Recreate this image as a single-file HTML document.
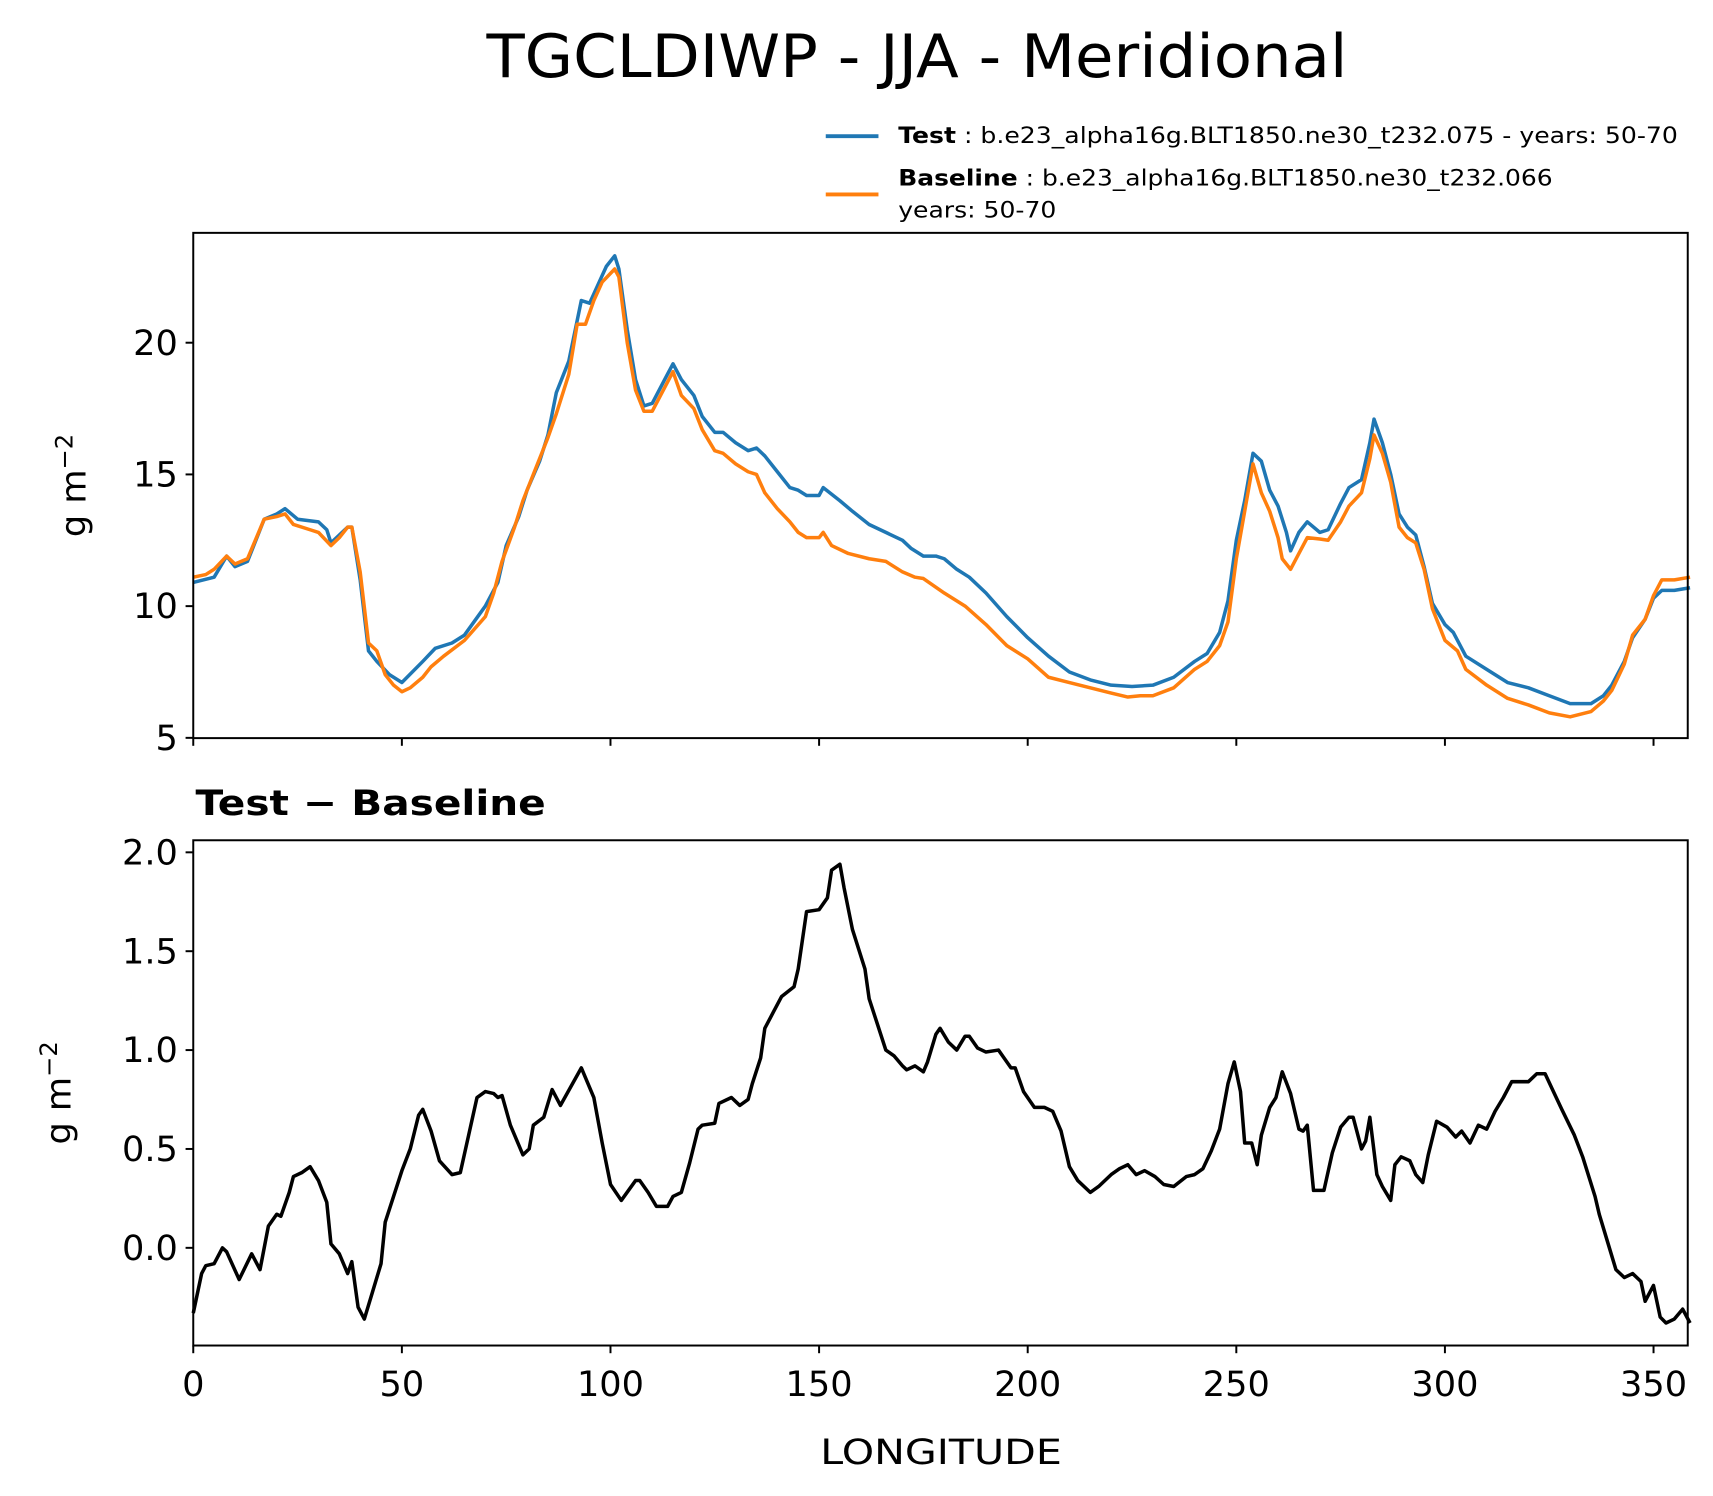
<!DOCTYPE html>
<html><head><meta charset="utf-8"><style>
html,body{margin:0;padding:0;background:#fff}
svg{display:block}
text{font-family:"DejaVu Sans","Liberation Sans",sans-serif;fill:#000}
</style></head><body>
<svg id="fig" width="1713" height="1496" viewBox="0 0 1560 1362" preserveAspectRatio="none" xmlns="http://www.w3.org/2000/svg">
<rect width="1560" height="1362" fill="#fff"/>
<text x="835" y="70" font-size="54" text-anchor="middle" textLength="784" lengthAdjust="spacingAndGlyphs">TGCLDIWP - JJA - Meridional</text>
<g>
<line x1="752" y1="124" x2="800" y2="124" stroke="#1f77b4" stroke-width="3.5"/>
<text x="818" y="130" font-size="20" textLength="710" lengthAdjust="spacingAndGlyphs"><tspan font-weight="bold">Test</tspan> : b.e23_alpha16g.BLT1850.ne30_t232.075 - years: 50-70</text>
<line x1="752" y1="177" x2="800" y2="177" stroke="#ff7f0e" stroke-width="3.5"/>
<text x="818" y="169" font-size="20" textLength="596" lengthAdjust="spacingAndGlyphs"><tspan font-weight="bold">Baseline</tspan> : b.e23_alpha16g.BLT1850.ne30_t232.066</text>
<text x="818" y="198" font-size="20" textLength="144" lengthAdjust="spacingAndGlyphs">years: 50-70</text>
</g>
<g id="topPanel"></g>
<text x="178" y="742" font-size="32" font-weight="bold" textLength="319" lengthAdjust="spacingAndGlyphs">Test − Baseline</text>
<g id="botPanel"></g>
<text x="857" y="1333" font-size="32" text-anchor="middle" textLength="220" lengthAdjust="spacingAndGlyphs">LONGITUDE</text>
<text transform="translate(78,442) rotate(-90)" font-size="32" text-anchor="middle">g m<tspan dy="-12" font-size="22">−2</tspan></text>
<text transform="translate(64,995) rotate(-90)" font-size="32" text-anchor="middle">g m<tspan dy="-12" font-size="22">−2</tspan></text>
</svg>
<script>
const testLon=[0,5,8,10,13,17,20,22,25,30,32,33,37,38,40,42,44,47,50,55,58,62,65,70,73,75,78,80,83,85,87,90,93,95,97,99,101,102,104,106,108,110,113,115,117,120,122,125,127,130,133,135,137,140,143,145,147,150,151,155,158,162,166,170,172,175,178,180,183,186,190,195,200,205,210,215,220,225,230,235,240,243,246,248,250,252,254,256,258,260,262,263,265,267,270,272,275,277,280,282,283,285,287,289,291,293,295,297,300,302,305,310,315,320,325,330,335,338,340,343,345,348,350,352,355,358.75];
const testVal=[10.9,11.1,11.9,11.5,11.7,13.3,13.5,13.7,13.3,13.2,12.9,12.4,13.0,13.0,11.0,8.3,7.9,7.4,7.1,7.9,8.4,8.6,8.9,10.0,10.9,12.3,13.4,14.4,15.5,16.5,18.1,19.3,21.6,21.5,22.2,22.9,23.3,22.8,20.5,18.6,17.6,17.7,18.6,19.2,18.6,18.0,17.2,16.6,16.6,16.2,15.9,16.0,15.7,15.1,14.5,14.4,14.2,14.2,14.5,14.0,13.6,13.1,12.8,12.5,12.2,11.9,11.9,11.8,11.4,11.1,10.5,9.6,8.8,8.1,7.5,7.2,7.0,6.95,7.0,7.3,7.9,8.2,9.0,10.2,12.5,14.0,15.8,15.5,14.4,13.8,12.8,12.1,12.8,13.2,12.8,12.9,13.9,14.5,14.8,16.2,17.1,16.2,15.0,13.5,13.0,12.7,11.5,10.1,9.3,9.0,8.1,7.6,7.1,6.9,6.6,6.3,6.3,6.6,7.0,7.9,8.8,9.5,10.3,10.6,10.6,10.7];
const baseLon=[0,3,5,8,10,13,17,20,22,24,28,30,33,35,37,38,40,42,44,46,48,50,52,55,57,60,65,70,72,74,77,79,81,85,87,90,92,94,96,98,101,102,104,106,108,110,113,115,117,120,122,125,127,130,133,135,137,140,143,145,147,150,151,153,157,162,166,170,173,175,180,185,190,195,200,205,210,215,220,224,227,230,235,240,243,246,248,250,252,254,256,258,260,261,263,265,267,270,272,275,277,280,282,283,285,287,289,291,293,295,297,300,303,305,310,315,320,325,330,335,338,340,343,345,348,350,352,355,358.75];
const baseVal=[11.1,11.2,11.4,11.9,11.6,11.8,13.3,13.4,13.5,13.1,12.9,12.8,12.3,12.6,13.0,13.0,11.3,8.6,8.3,7.4,7.0,6.75,6.9,7.3,7.7,8.1,8.7,9.6,10.5,11.7,13.0,14.0,14.8,16.4,17.3,18.8,20.7,20.7,21.6,22.3,22.8,22.5,20.0,18.2,17.4,17.4,18.3,18.9,18.0,17.5,16.7,15.9,15.8,15.4,15.1,15.0,14.3,13.7,13.2,12.8,12.6,12.6,12.8,12.3,12.0,11.8,11.7,11.3,11.1,11.05,10.5,10.0,9.3,8.5,8.0,7.3,7.1,6.9,6.7,6.55,6.6,6.6,6.9,7.6,7.9,8.5,9.4,11.8,13.6,15.4,14.3,13.6,12.6,11.8,11.4,12.0,12.6,12.55,12.5,13.2,13.8,14.3,15.6,16.5,15.8,14.7,13.0,12.6,12.4,11.4,9.9,8.7,8.3,7.6,7.0,6.5,6.25,5.95,5.8,6.0,6.4,6.8,7.8,8.9,9.5,10.4,11.0,11.0,11.1];
const diffLon=[0,2,3,5,7,8,11,14,16,18,20,21,23,24,26,28,30,32,33,35,37,38,39.5,41,43,45,46,48,50,52,54,55,57,59,62,64,66,68,70,72,73,74,76,79,80.5,81.5,84,86,88,93,96,98,100,102.6,106,107,109,111,113.7,115,117,119,121,122,125,126,129,131,133,134,136,137,139,141,144,145,147,150,152,153,155,156,158,161,162,164,166,168,170,171,173,175,176,178,179,181,183,185,186,188,190,193,194,196,197,199,201.6,204,206,208,210,212,215,217,220,222,224,226,228,230.5,232.6,235,238,240,242,244,246,248,249.5,251,252,253.7,255,256,258,259.5,261,263,265,266,267,268.5,271,273,275,277,278,280,281,282,283.7,285,287,288,289.5,291.6,293,294.7,296,298,300.5,302.6,304,306,308,310,312,314,316,318,320,322,324,326,328,331,333,336,337,339,341,343,345,347,348,350,351.6,353,355,357,358.75];
const diffVal=[-0.33,-0.13,-0.09,-0.08,0.0,-0.02,-0.16,-0.03,-0.11,0.11,0.17,0.16,0.28,0.36,0.38,0.41,0.34,0.23,0.02,-0.03,-0.13,-0.07,-0.3,-0.36,-0.22,-0.08,0.13,0.26,0.39,0.5,0.67,0.70,0.59,0.44,0.37,0.38,0.57,0.76,0.79,0.78,0.76,0.77,0.62,0.47,0.5,0.62,0.66,0.8,0.72,0.91,0.76,0.53,0.32,0.24,0.34,0.34,0.28,0.21,0.21,0.26,0.28,0.43,0.6,0.62,0.63,0.73,0.76,0.72,0.75,0.83,0.96,1.11,1.19,1.27,1.32,1.41,1.70,1.71,1.77,1.91,1.94,1.82,1.61,1.41,1.26,1.13,1.0,0.97,0.92,0.90,0.92,0.89,0.94,1.08,1.11,1.04,1.0,1.07,1.07,1.01,0.99,1.0,0.97,0.91,0.91,0.79,0.71,0.71,0.69,0.59,0.41,0.34,0.28,0.31,0.37,0.40,0.42,0.37,0.39,0.36,0.32,0.31,0.36,0.37,0.40,0.49,0.6,0.83,0.94,0.79,0.53,0.53,0.42,0.57,0.71,0.76,0.89,0.78,0.6,0.59,0.62,0.29,0.29,0.48,0.61,0.66,0.66,0.5,0.54,0.66,0.37,0.31,0.24,0.42,0.46,0.44,0.37,0.33,0.47,0.64,0.61,0.56,0.59,0.53,0.62,0.6,0.69,0.76,0.84,0.84,0.84,0.88,0.88,0.79,0.70,0.57,0.46,0.26,0.17,0.03,-0.11,-0.15,-0.13,-0.17,-0.27,-0.19,-0.35,-0.38,-0.36,-0.31,-0.38];
const xTicks=[0,50,100,150,200,250,300,350];
const topYTicks=[5,10,15,20];
const botYTicks=[0.0,0.5,1.0,1.5,2.0];
const botYLabels=["0.0","0.5","1.0","1.5","2.0"];

const NS="http://www.w3.org/2000/svg";
const L=176,R=1537;
const xMin=0,xMax=358.2;
function sx(v){return L+(v-xMin)/(xMax-xMin)*(R-L);}
const T1=212,B1=672,y1min=4.99,y1max=24.17;
function sy1(v){return B1-(v-y1min)/(y1max-y1min)*(B1-T1);}
const T2=765,B2=1225,y2min=-0.494,y2max=2.061;
function sy2(v){return B2-(v-y2min)/(y2max-y2min)*(B2-T2);}
function mk(tag,attrs,parent){const e=document.createElementNS(NS,tag);for(const k in attrs)e.setAttribute(k,attrs[k]);parent.appendChild(e);return e;}
function pathD(xs,ys,fy){return xs.map((x,i)=>(i?'L':'M')+sx(x).toFixed(1)+','+fy(ys[i]).toFixed(1)).join('');}

const topG=document.getElementById('topPanel'),botG=document.getElementById('botPanel');
let p=mk('path',{d:pathD(testLon,testVal,sy1),fill:'none',stroke:'#1f77b4','stroke-width':3.2,'stroke-linejoin':'round'},topG);


p=mk('path',{d:pathD(baseLon,baseVal,sy1),fill:'none',stroke:'#ff7f0e','stroke-width':3.2,'stroke-linejoin':'round'},topG);


p=mk('path',{d:pathD(diffLon,diffVal,sy2),fill:'none',stroke:'#000','stroke-width':3.2,'stroke-linejoin':'round'},botG);



function frame(g,T,B,name){
  const r=mk('rect',{x:L,y:T,width:R-L,height:B-T,fill:'none',stroke:'#000','stroke-width':1.8},g);
  
  
}
frame(topG,T1,B1,'top-axes-frame');
frame(botG,T2,B2,'bottom-axes-frame');

xTicks.forEach(v=>{
  let t=mk('line',{x1:sx(v),x2:sx(v),y1:B1,y2:B1+7,stroke:'#000','stroke-width':1.8},topG);
  
  
  t=mk('line',{x1:sx(v),x2:sx(v),y1:B2,y2:B2+7,stroke:'#000','stroke-width':1.8},botG);
  
  
  const lb=mk('text',{x:sx(v),y:B2+46,'font-size':32,'text-anchor':'middle'},botG);
  lb.textContent=String(v);
  
  
});
topYTicks.forEach(v=>{
  const t=mk('line',{x1:L-7,x2:L,y1:sy1(v),y2:sy1(v),stroke:'#000','stroke-width':1.8},topG);
  
  
  const lb=mk('text',{x:L-14,y:sy1(v)+11,'font-size':32,'text-anchor':'end'},topG);
  lb.textContent=String(v);
  
  
});
botYTicks.forEach((v,i)=>{
  const t=mk('line',{x1:L-7,x2:L,y1:sy2(v),y2:sy2(v),stroke:'#000','stroke-width':1.8},botG);
  
  
  const lb=mk('text',{x:L-14,y:sy2(v)+11,'font-size':32,'text-anchor':'end'},botG);
  lb.textContent=botYLabels[i];
  
  
});
</script>
</body></html>
